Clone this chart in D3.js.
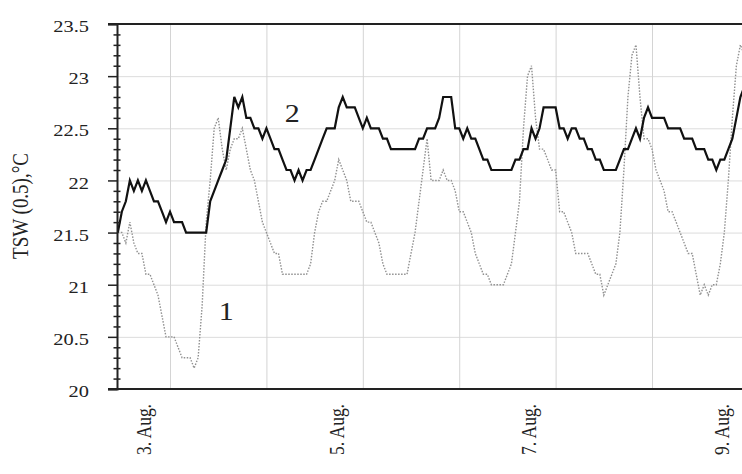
<!DOCTYPE html>
<html>
<head>
<meta charset="utf-8">
<script src="https://cdn.jsdelivr.net/npm/d3@7"></script>
<style>
  html, body { margin: 0; padding: 0; background: #fff; }
  svg { display: block; }
  text { font-family: "Liberation Serif", "Times New Roman", serif; fill: #222; }
</style>
</head>
<body>
<svg id="chart" width="742" height="474"></svg>
<script>
// Hours since 3 Aug 00:00, hourly readings
const hours = d3.range(-7, 150);

// Series 1 (dotted): TSW at 0.5 m, °C
const series1 = [
  21.5, 21.5, 21.4, 21.6, 21.4, 21.3, 21.3,
  21.1, 21.1, 21.0, 20.9, 20.7, 20.5, 20.5, 20.5, 20.4, 20.3, 20.3, 20.3,
  20.2, 20.3, 20.8, 21.6, 22.0, 22.5, 22.6, 22.3, 22.1, 22.3, 22.4, 22.4,
  22.5, 22.3, 22.1, 22.0, 21.8, 21.6, 21.5, 21.4, 21.3, 21.3, 21.1, 21.1,
  21.1, 21.1, 21.1, 21.1, 21.1, 21.2, 21.5, 21.7, 21.8, 21.8, 21.9, 22.0,
  22.2, 22.1, 22.0, 21.8, 21.8, 21.8, 21.7, 21.6, 21.6, 21.5, 21.4, 21.2,
  21.1, 21.1, 21.1, 21.1, 21.1, 21.1, 21.3, 21.5, 21.8, 22.1, 22.4, 22.0,
  22.0, 22.0, 22.1, 22.0, 22.0, 21.9, 21.7, 21.7, 21.6, 21.5, 21.3, 21.2,
  21.1, 21.1, 21.0, 21.0, 21.0, 21.0, 21.1, 21.2, 21.5, 21.8, 22.5, 23.0,
  23.1, 22.6, 22.3, 22.3, 22.2, 22.1, 22.1, 21.7, 21.7, 21.6, 21.5, 21.3,
  21.3, 21.3, 21.3, 21.2, 21.1, 21.1, 20.9, 21.0, 21.1, 21.2, 21.5, 22.1,
  22.8, 23.2, 23.3, 22.8, 22.4, 22.4, 22.3, 22.1, 22.0, 21.9, 21.7, 21.7,
  21.6, 21.5, 21.4, 21.3, 21.3, 21.1, 20.9, 21.0, 20.9, 21.0, 21.0, 21.2,
  21.5, 22.0, 22.6, 23.1, 23.3, 23.2
];

// Series 2 (solid): TSW at 0.5 m, °C
const series2 = [
  21.5, 21.7, 21.8, 22.0, 21.9, 22.0, 21.9,
  22.0, 21.9, 21.8, 21.8, 21.7, 21.6, 21.7, 21.6, 21.6, 21.6, 21.5, 21.5,
  21.5, 21.5, 21.5, 21.5, 21.8, 21.9, 22.0, 22.1, 22.2, 22.5, 22.8, 22.7,
  22.8, 22.6, 22.6, 22.5, 22.5, 22.4, 22.5, 22.4, 22.3, 22.3, 22.2, 22.1,
  22.1, 22.0, 22.1, 22.0, 22.1, 22.1, 22.2, 22.3, 22.4, 22.5, 22.5, 22.5,
  22.7, 22.8, 22.7, 22.7, 22.7, 22.6, 22.5, 22.6, 22.5, 22.5, 22.5, 22.4,
  22.4, 22.3, 22.3, 22.3, 22.3, 22.3, 22.3, 22.3, 22.4, 22.4, 22.5, 22.5,
  22.5, 22.6, 22.8, 22.8, 22.8, 22.5, 22.5, 22.4, 22.5, 22.4, 22.4, 22.3,
  22.2, 22.2, 22.1, 22.1, 22.1, 22.1, 22.1, 22.1, 22.2, 22.2, 22.3, 22.3,
  22.5, 22.4, 22.5, 22.7, 22.7, 22.7, 22.7, 22.5, 22.5, 22.4, 22.5, 22.5,
  22.4, 22.4, 22.3, 22.3, 22.2, 22.2, 22.1, 22.1, 22.1, 22.1, 22.2, 22.3,
  22.3, 22.4, 22.5, 22.4, 22.6, 22.7, 22.6, 22.6, 22.6, 22.6, 22.5, 22.5,
  22.5, 22.5, 22.4, 22.4, 22.4, 22.3, 22.3, 22.3, 22.2, 22.2, 22.1, 22.2,
  22.2, 22.3, 22.4, 22.6, 22.8, 22.9
];

// Axis settings
const yMajor = [20, 20.5, 21, 21.5, 22, 22.5, 23, 23.5];
const yMinor = d3.range(200, 236).map(d => d / 10).filter(d => Math.round(d * 10) % 5 !== 0);
const dayLabelHours = [0, 48, 96, 144];          // 3., 5., 7., 9. Aug.
const gridHours = [6, 30, 54, 78, 102, 126, 150];
const seriesLabels = [
  { text: "1", h: 20.0, v: 20.66 },
  { text: "2", h: 36.4, v: 22.56 }
];

(function draw() {
  const svg = d3.select("#chart");
  const plotLeft = 117, plotTop = 24, plotBottom = 389, plotRight = 742;
  const STRETCH = 1.2;

  const x = d3.scaleLinear().domain([-7.2, 148.4]).range([plotLeft, plotRight]);
  const y = d3.scaleLinear().domain([20, 23.5]).range([plotBottom, plotTop]);

  // clip for plotted lines
  svg.append("defs").append("clipPath").attr("id", "plot")
    .append("rect").attr("x", plotLeft).attr("y", plotTop - 2)
    .attr("width", plotRight - plotLeft).attr("height", plotBottom - plotTop + 4);

  // horizontal grid
  svg.append("g")
    .attr("transform", `translate(${plotLeft},0)`)
    .call(d3.axisLeft(y).tickValues(yMajor).tickSize(-(plotRight - plotLeft)).tickFormat(""))
    .call(g => g.select(".domain").remove())
    .call(g => g.selectAll("line").attr("stroke", "#dcdcdc").attr("stroke-width", 1));

  // vertical grid
  svg.append("g")
    .attr("transform", `translate(0,${plotBottom})`)
    .call(d3.axisBottom(x).tickValues(gridHours).tickSize(-(plotBottom - plotTop)).tickFormat(""))
    .call(g => g.select(".domain").remove())
    .call(g => g.selectAll("line").attr("stroke", "#d4d4d4").attr("stroke-width", 1));

  // lines
  const line = d3.line().x((d, i) => x(hours[i])).y(d => y(d));

  svg.append("path")
    .datum(series1)
    .attr("clip-path", "url(#plot)")
    .attr("fill", "none")
    .attr("stroke", "#909090")
    .attr("stroke-width", 1.4)
    .attr("stroke-dasharray", "1.5,1.5")
    .attr("d", line);

  svg.append("path")
    .datum(series2)
    .attr("clip-path", "url(#plot)")
    .attr("fill", "none")
    .attr("stroke", "#111")
    .attr("stroke-width", 2.2)
    .attr("d", line);

  // top and bottom frame lines
  [plotTop, plotBottom].forEach(py => {
    svg.append("line")
      .attr("x1", plotLeft - 9).attr("x2", plotRight)
      .attr("y1", py).attr("y2", py)
      .attr("stroke", "#222").attr("stroke-width", 2);
  });

  // y axis: major ticks with labels
  svg.append("g")
    .attr("transform", `translate(${plotLeft},0)`)
    .call(d3.axisLeft(y).tickValues(yMajor).tickSize(9).tickPadding(0).tickFormat(d => String(d)))
    .call(g => g.select(".domain").attr("stroke", "#222").attr("stroke-width", 2))
    .call(g => g.selectAll("line").attr("stroke", "#222").attr("stroke-width", 1.5))
    .call(g => g.selectAll("text")
      .attr("x", -28 / STRETCH)
      .attr("dy", "0.45em")
      .attr("transform", `scale(${STRETCH},1)`)
      .style("font-size", "17px")
      .style("font-family", "'Liberation Serif', serif")
      .attr("fill", "#222"));

  // y axis: minor ticks crossing the axis line
  svg.append("g")
    .attr("transform", `translate(${plotLeft + 3.5},0)`)
    .call(d3.axisLeft(y).tickValues(yMinor).tickSize(7).tickFormat(""))
    .call(g => g.select(".domain").remove())
    .call(g => g.selectAll("line").attr("stroke", "#222").attr("stroke-width", 1.5));

  // x axis day labels
  svg.append("g")
    .attr("transform", `translate(0,${plotBottom})`)
    .call(d3.axisBottom(x).tickValues(dayLabelHours).tickSize(0).tickFormat(d => `${3 + d / 24}. Aug.`))
    .call(g => g.select(".domain").remove())
    .call(g => g.selectAll("text")
      .attr("y", null)
      .attr("x", 0)
      .attr("dy", "0.35em")
      .attr("text-anchor", "end")
      .attr("transform", `translate(-3,${404 - plotBottom}) scale(${STRETCH},1) rotate(-90)`)
      .style("font-size", "17.5px")
      .style("font-family", "'Liberation Serif', serif")
      .attr("fill", "#222"));

  // y axis title
  svg.append("text")
    .attr("transform", `translate(20,206) scale(${STRETCH},1) rotate(-90)`)
    .attr("text-anchor", "middle")
    .attr("dy", "0.35em")
    .style("font-size", "19px")
    .text("TSW (0.5),°C");

  // series labels
  svg.selectAll("text.series")
    .data(seriesLabels)
    .join("text")
    .attr("class", "series")
    .attr("transform", d => `translate(${x(d.h)},${y(d.v)}) scale(${STRETCH},1)`)
    .attr("text-anchor", "middle")
    .style("font-size", "25px")
    .text(d => d.text);
})();
</script>
</body>
</html>
